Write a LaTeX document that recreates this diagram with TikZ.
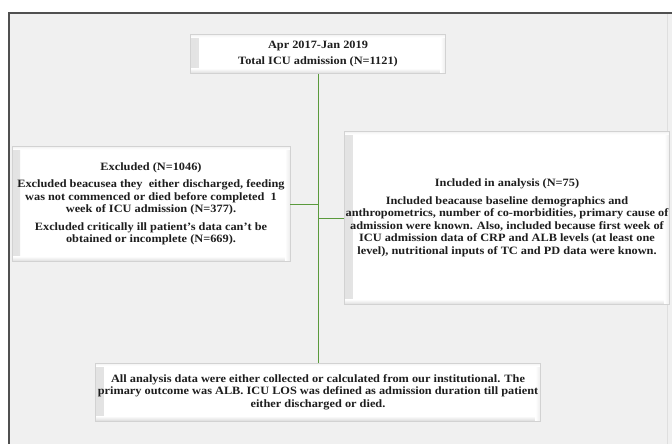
\documentclass[tikz,border=0pt]{standalone}
\usepackage{fontspec}
\setmainfont{Liberation Serif}[FakeStretch=1.1]
\usetikzlibrary{positioning}
\definecolor{linegreen}{HTML}{5A9A3C}
\definecolor{panel}{HTML}{F0F0F0}
\definecolor{framegray}{HTML}{505050}
\definecolor{ink}{HTML}{1E1E1E}

\begin{document}
\begin{tikzpicture}[x=1pt,y=-1pt]
\tikzset{bevel/.style={path picture={
  \shade[left color=gray!22,right color=white] (path picture bounding box.south west) rectangle ([xshift=8pt]path picture bounding box.north west);
  \shade[bottom color=gray!28,top color=white] (path picture bounding box.south west) rectangle ([yshift=5pt]path picture bounding box.south east);
  \shade[right color=gray!15,left color=white] ([xshift=-5pt]path picture bounding box.south east) rectangle (path picture bounding box.north east);
  \shade[top color=gray!10,bottom color=white] ([yshift=-3pt]path picture bounding box.north west) rectangle (path picture bounding box.north east);}}}
\tikzset{box/.style={draw=gray!35,fill=white,bevel,align=center,inner sep=0pt,text=ink,font=\bfseries\fontsize{11.2}{12.5}\selectfont}}
\tikzset{link/.style={draw=linegreen,line width=0.9pt}}
\useasboundingbox (0,0) rectangle (672,444);
\fill[white] (0,0) rectangle (672,444);
\fill[panel] (9,13) rectangle (672,444);
\draw[gray!25] (667,13) -- (667,444);
\draw[framegray,line width=1.6pt] (9,444) -- (9,13) -- (672,13);
\node[box,minimum width=255pt,minimum height=39pt] (total) at (318,54)
  {Apr 2017-Jan 2019\\[4pt]Total ICU admission (N=1121)};
\node[box,minimum width=278pt,minimum height=115pt] (excl) at (151,204)
  {Excluded (N=1046)\\[5pt]Excluded beacusea they~ either discharged, feeding\\was not commenced or died before completed~ 1\\week of ICU admission (N=377).\\[5pt]Excluded critically ill patient’s data can’t be\\obtained or incomplete (N=669).};
\node[box,minimum width=325pt,minimum height=173pt] (incl) at (507,218)
  {Included in analysis (N=75)\\[5pt]Included beacause baseline demographics and\\anthropometrics, number of co-morbidities, primary cause of\\admission were known. Also, included because first week of\\ICU admission data of CRP and ALB levels (at least one\\level), nutritional inputs of TC and PD data were known.};
\node[box,minimum width=445pt,minimum height=58pt] (analysis) at (318,392)
  {All analysis data were either collected or calculated from our institutional. The\\primary outcome was ALB. ICU LOS was defined as admission duration till patient\\either discharged or died.};
\draw[link] (total.south) -- (analysis.north);
\draw[link] (excl.east) -- (excl.east -| total.south);
\draw[link] (incl.west) -- (incl.west -| total.south);
\end{tikzpicture}
\end{document}
